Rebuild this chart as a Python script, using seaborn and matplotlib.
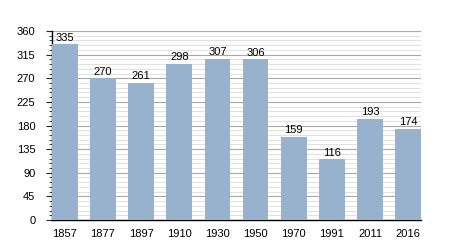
import matplotlib
matplotlib.use("Agg")
import matplotlib.pyplot as plt
import seaborn as sns
import pandas as pd
from matplotlib.ticker import MultipleLocator

years = ["1857", "1877", "1897", "1910", "1930", "1950", "1970", "1991", "2011", "2016"]
population = [335, 270, 261, 298, 307, 306, 159, 116, 193, 174]

sns.set_style("white")
plt.rcParams['font.family'] = ['Liberation Sans', 'DejaVu Sans']

df = pd.DataFrame({"year": years, "pop": population})
fig = plt.figure(figsize=(4.5, 2.5), dpi=100)
ax = fig.add_axes([0.1156, 0.12, 0.82, 0.756])

sns.barplot(data=df, x="year", y="pop", color="#98b2cd", saturation=1, width=0.67,
            edgecolor="none", linewidth=0, ax=ax, zorder=3)

ax.set_ylim(0, 360)
ax.set_xlim(-0.335, 9.335)
ax.yaxis.set_major_locator(MultipleLocator(45))
ax.yaxis.set_minor_locator(MultipleLocator(9))
ax.grid(which="major", axis="y", color="#a8a8a8", linewidth=0.8, zorder=0)
ax.grid(which="minor", axis="y", color="#dcdcdc", linewidth=0.6, zorder=0)
ax.set_axisbelow(True)
for s in ["top", "right"]:
    ax.spines[s].set_visible(False)
for s in ["left", "bottom"]:
    ax.spines[s].set_color("black")
    ax.spines[s].set_linewidth(1.0)
ax.tick_params(axis="y", which="major", left=True, length=4, width=0.8, labelsize=8,
               pad=8, labelcolor="black")
ax.tick_params(axis="y", which="minor", left=True, length=2.5, width=0.6)
ax.tick_params(axis="x", bottom=False, labelsize=8, pad=3, labelcolor="black")
ax.set_xlabel("")
ax.set_ylabel("")

for i, v in enumerate(population):
    ax.text(i, v + 3, str(v), ha="center", va="bottom", fontsize=8, color="black", zorder=4)

fig.savefig("out.png", dpi=100)
